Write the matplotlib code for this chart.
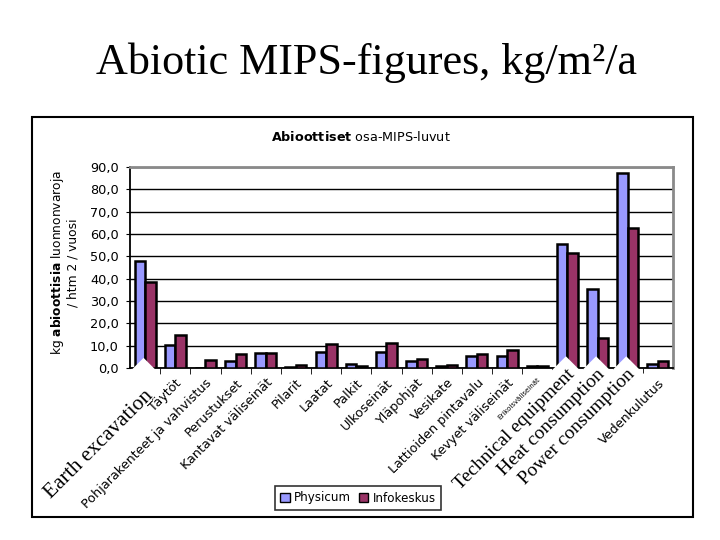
import numpy as np
import matplotlib
matplotlib.use("Agg")
import matplotlib.pyplot as plt
from matplotlib.patches import Rectangle, Patch

# Finnish category names from the embedded chart
categories = ["Maankaivu", "Täytöt", "Pohjarakenteet ja vahvistus", "Perustukset",
              "Kantavat väliseinät", "Pilarit", "Laatat", "Palkit", "Ulkoseinät",
              "Yläpohjat", "Vesikate", "Lattioiden pintavalu", "Kevyet väliseinät",
              "Erikoisväliseinät", "Tekniset laitteet", "Lämmönkulutus",
              "Sähkönkulutus", "Vedenkulutus"]
# English labels pasted over some categories
overlay_idx = [0, 14, 15, 16]
overlay_text = ["Earth excavation", "Technical equipment", "Heat consumption", "Power consumption"]

physicum = [48.0, 10.5, 0.0, 3.0, 6.5, 0.3, 7.2, 2.0, 7.2, 3.2, 1.0, 5.3, 5.3, 0.8,
            55.4, 35.4, 87.2, 1.8]
infokeskus = [38.4, 15.0, 3.6, 6.2, 6.5, 1.5, 10.7, 0.8, 11.0, 3.9, 1.5, 6.2, 8.0, 0.8,
              51.7, 13.6, 62.8, 3.0]
yticks = [0, 10, 20, 30, 40, 50, 60, 70, 80, 90]

W, H = 720, 540
fig = plt.figure(figsize=(7.2, 5.4), dpi=100)

def fx(px):
    return px / W

def fy(py):
    return 1 - py / H

# slide title
fig.text(fx(367), fy(74), "Abiotic MIPS-figures, kg/m²/a", family="Liberation Serif",
         fontsize=31.8, ha="center", va="baseline")

# frame of the pasted chart
fig.patches.append(Rectangle((fx(32), fy(517)), fx(661), 400 / H, transform=fig.transFigure,
                             fill=False, edgecolor="black", linewidth=1.5))

# chart title, first word bold
fig.text(fx(361), fy(137), r"$\mathbf{Abioottiset}$ osa-MIPS-luvut", fontsize=9.2,
         ha="center", va="center")

# y label, two lines
fig.text(fx(57), fy(263), r"kg $\mathbf{abioottisia}$ luonnonvaroja", fontsize=8.8,
         rotation=90, ha="center", va="center")
fig.text(fx(73), fy(263), "/ htm 2 / vuosi", fontsize=8.8, rotation=90, ha="center", va="center")

ax = fig.add_axes([fx(130), fy(368), 543 / W, 201 / H])
x = np.arange(len(categories))
w = 0.35
ax.bar(x - w / 2, physicum, w, color="#9999FF", edgecolor="black", linewidth=1.8, zorder=3)
ax.bar(x + w / 2, infokeskus, w, color="#993366", edgecolor="black", linewidth=1.8, zorder=3)

ax.set_xlim(-0.5, len(categories) - 0.5)
ax.set_ylim(0, 90)
ax.set_yticks(yticks, [f"{v:.1f}".replace(".", ",") for v in yticks], fontsize=9.3)
ax.yaxis.grid(True, color="black", linewidth=1)
ax.set_axisbelow(True)
ax.tick_params(axis="y", length=3, pad=5)

ax.set_xticks(x)
ax.set_xticklabels(categories, rotation=45, ha="right", rotation_mode="anchor", fontsize=9.2)
ax.tick_params(axis="x", which="major", length=0, pad=6)
ax.set_xticks(x[:-1] + 0.5, minor=True)
ax.tick_params(axis="x", which="minor", length=4)
for lab in ax.get_xticklabels():
    if lab.get_text() == "Erikoisväliseinät":
        lab.set_fontsize(5)

for s in ["left", "bottom"]:
    ax.spines[s].set_linewidth(1.3)
for s in ["top", "right"]:
    ax.spines[s].set_color("#8a8a8a")
    ax.spines[s].set_linewidth(2)

# English labels pasted on white text boxes over the Finnish ones
for i, t in zip(overlay_idx, overlay_text):
    if i == 0:
        size, dy, box_dy, pad = 15.5, -13, 2.5, 0.22
    else:
        size, dy, box_dy, pad = 14, 1.5, 1.5, 0.35
    common = dict(xycoords="data", textcoords="offset points", family="Liberation Serif",
                  fontsize=size, rotation=45, ha="right", va="top", rotation_mode="anchor",
                  annotation_clip=False)
    # white box first, drawn under all overlay texts
    ax.annotate(t, (i - 0.05, 0), xytext=(0, box_dy), color="white", zorder=9,
                bbox=dict(boxstyle=f"square,pad={pad}", facecolor="white", edgecolor="none"),
                **common)
    ax.annotate(t, (i - 0.05, 0), xytext=(0, dy), color="black", zorder=10, **common)

handles = [Patch(facecolor="#9999FF", edgecolor="black"),
           Patch(facecolor="#993366", edgecolor="black")]
leg = fig.legend(handles, ["Physicum", "Infokeskus"], loc="center",
                 bbox_to_anchor=(fx(358), fy(498)), ncol=2, fontsize=8.6, frameon=True,
                 fancybox=False, edgecolor="black", handlelength=0.8, handleheight=0.8,
                 handletextpad=0.4, columnspacing=0.6, borderpad=0.45)
leg.get_frame().set_linewidth(1.2)

fig.savefig("out.png", dpi=100)
